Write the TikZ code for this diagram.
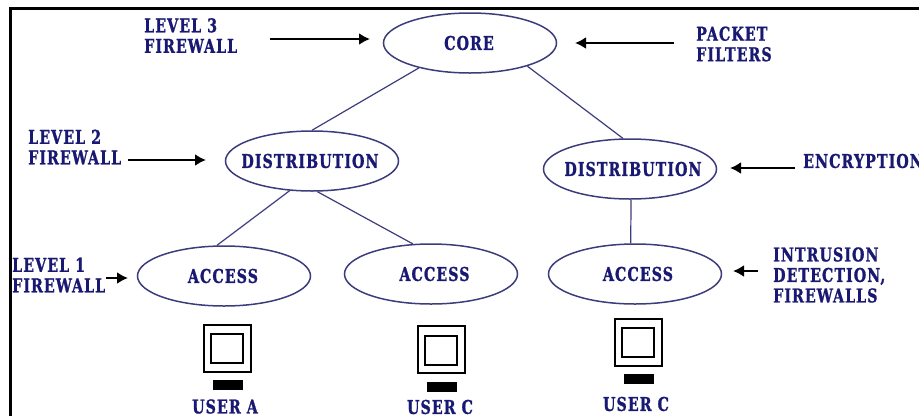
\documentclass[tikz,border=0pt]{standalone}
\usepackage{fontspec}
\setmainfont{DejaVu Serif}[BoldFont={DejaVu Serif Bold},BoldFeatures={FakeStretch=0.75,LetterSpace=5.5,FakeBold=1}]
\usetikzlibrary{arrows.meta,shapes.geometric}
\definecolor{inknavy}{RGB}{25,25,115}
\definecolor{edgenavy}{RGB}{60,60,125}
\newcommand{\tiertext}[2]{\makebox[0pt]{\hspace{#1pt}#2}}
\tikzset{
  x=1pt,y=-1pt,
  tier/.style={ellipse,draw=edgenavy,line width=1.5pt,minimum width=173pt,minimum height=60pt,inner sep=0pt,text=inknavy,font=\bfseries\fontsize{19}{20.5}\selectfont},
  tag/.style={anchor=west,align=left,inner sep=0pt,text=inknavy,font=\bfseries\fontsize{19}{20.5}\selectfont},
  link/.style={draw=edgenavy,line width=1.2pt},
  pointer/.style={draw=black,line width=2.6pt,-{Latex[length=11pt,width=12pt]}},
  screen/.style={draw=black,line width=2pt,fill=white},
  foot/.style={fill=black,draw=none},
  userlabel/.style={text=inknavy,inner sep=0pt,font=\bfseries\fontsize{19}{20.5}\selectfont}
}
\begin{document}
\begin{tikzpicture}
\useasboundingbox (0,0) rectangle (919,416);
\fill[white] (0,0) rectangle (919,416);
\clip (0,0) rectangle (919,416);
% frame
\fill[black] (9,7) rectangle (919,9.5);
\fill[black] (9,7) rectangle (12,416);
% tiers
\node[tier] (core) at (470,43) {\tiertext{-2}{CORE}};
\node[tier] (distL) at (312,161) {\tiertext{-4}{DISTRIBUTION}};
\node[tier] (distR) at (630,169) {\tiertext{6}{DISTRIBUTION}};
\node[tier] (acc1) at (224,276) {\tiertext{-2}{ACCESS}};
\node[tier] (acc2) at (431,274) {\tiertext{7}{ACCESS}};
\node[tier] (acc3) at (635,274) {\tiertext{6}{ACCESS}};
% links
\draw[link] (core.206) -- (distL.90);
\draw[link] (core.338) -- (distR.103);
\draw[link] (distL.233) -- (acc1.103);
\draw[link] (distL.280) -- (acc2.121);
\draw[link] (distR.272) -- (acc3.98);
% labels
\node[tag] (l3) at (144,35.5) {LEVEL 3\\FIREWALL};
\node[tag] (pf) at (696,44) {PACKET\\FILTERS};
\node[tag] (l2) at (28,147) {LEVEL 2\\FIREWALL};
\node[tag] (enc) at (803,161) {ENCRYPTION};
\node[tag] (l1) at (12,275) {LEVEL 1\\FIREWALL};
\node[tag] (ids) at (773,275) {INTRUSION\\DETECTION,\\FIREWALLS};
% pointers
\coordinate (a3s) at (270,39); \coordinate (a3e) at (370,39);
\coordinate (pfs) at (674,43); \coordinate (pfe) at (575,43);
\coordinate (a2s) at (128,160); \coordinate (a2e) at (206,160);
\coordinate (encs) at (795,168); \coordinate (ence) at (730,168);
\coordinate (a1s) at (106,278); \coordinate (a1e) at (128,278);
\coordinate (idss) at (758,271); \coordinate (idse) at (733,271);
\draw[pointer] (a3s) -- (a3e);
\draw[pointer] (pfs) -- (pfe);
\draw[pointer] (a2s) -- (a2e);
\draw[pointer] (encs) -- (ence);
\draw[pointer] (a1s) -- (a1e);
\draw[pointer] (idss) -- (idse);
% monitors
\foreach \dx/\dy in {0/0,214/1.5,411/-6}{
  \begin{scope}[shift={(\dx,\dy)}]
    \draw[screen] (203.5,324.5) rectangle (250.5,371.5);
    \draw[screen] (211,334) rectangle (243,363);
    \fill[foot] (213,380) rectangle (243,390);
  \end{scope}
}
% users
\node[userlabel] (ua) at (225,406.5) {USER A};
\node[userlabel] (uc1) at (440,407) {USER C};
\node[userlabel] (uc2) at (636,404) {USER C};
\end{tikzpicture}
\end{document}
